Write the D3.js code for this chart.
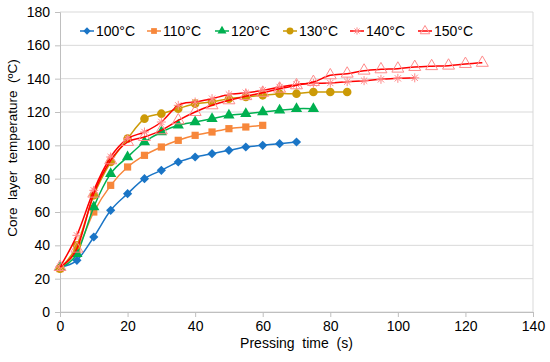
<!DOCTYPE html>
<html>
<head>
<meta charset="utf-8">
<script src="https://cdn.jsdelivr.net/npm/d3@7"></script>
<style>
  body { margin: 0; background: #fff; }
  text { font-family: "Liberation Sans", Arial, sans-serif; fill: #000; }
</style>
</head>
<body>
<div id="chart"></div>
<script>
// Data (time in s, temperature in °C)
const seriesNames = ["100°C", "110°C", "120°C", "130°C", "140°C", "150°C"];
const t100 = [0, 5, 10, 15, 20, 25, 30, 35, 40, 45, 50, 55, 60, 65, 70];
const v100 = [27, 31, 45, 61, 71, 80, 85, 90, 93, 95, 97, 99, 100, 101, 102];
const t110 = [0, 5, 10, 15, 20, 25, 30, 35, 40, 45, 50, 55, 60];
const v110 = [26, 37, 60, 76, 87, 94, 99, 103, 106, 108, 110, 111, 112];
const t120 = [0, 5, 10, 15, 20, 25, 30, 35, 40, 45, 50, 55, 60, 65, 70, 75];
const v120 = [26.5, 35, 63, 83, 93, 102, 108, 112, 114, 116, 118, 119, 120, 121, 122, 122];
const t130 = [0, 5, 10, 15, 20, 25, 30, 35, 40, 45, 50, 55, 60, 65, 70, 75, 80, 85];
const v130 = [26, 40, 70, 90, 104, 116, 119, 122, 125, 126, 128, 129, 130, 131, 131, 132, 132, 132];
const t140 = [0, 5, 10, 15, 20, 25, 30, 35, 40, 45, 50, 55, 60, 65, 70, 75, 80, 85, 90, 95, 100, 105];
const v140 = [27, 46, 73, 93, 104, 108, 114, 124, 126, 128, 130.5, 131.5, 133, 135, 136.5, 137.2, 137.4, 138.2, 138.8, 139.6, 140.2, 140.5];
const t150 = [0, 5, 10, 15, 20, 25, 30, 35, 40, 45, 50, 55, 60, 65, 70, 75, 80, 85, 90, 95, 100, 105, 110, 115, 120, 125];
const v150 = [27, 38, 71, 91, 102, 105, 109, 115, 120, 124, 127, 129.5, 131.5, 134, 136, 138, 142, 143, 144.8, 145.6, 146, 147, 147.5, 147.8, 148.8, 149.5];

const xTicks = [0, 20, 40, 60, 80, 100, 120, 140];
const yTicks = [0, 20, 40, 60, 80, 100, 120, 140, 160, 180];

const times = [t100, t110, t120, t130, t140, t150];
const values = [v100, v110, v120, v130, v140, v150];

// styles per series
const lineColors = ["#1a75c6", "#f7873b", "#00b050", "#cc9a06", "#ff0000", "#ff0000"];
const markerColors = ["#1a75c6", "#f7873b", "#00b050", "#cc9a06", "#ff8a8a", "#ff8a8a"];
const markerTypes = ["diamond", "square", "triangle", "circle", "asterisk", "hollowTriangle"];

const width = 550, height = 362;
const margin = { top: 12, right: 17, bottom: 50, left: 60 };

const svg = d3.select("#chart").append("svg")
    .attr("width", width)
    .attr("height", height);

const x = d3.scaleLinear().domain([0, 140]).range([margin.left, width - margin.right]);
const y = d3.scaleLinear().domain([0, 180]).range([height - margin.bottom, margin.top]);

// horizontal gridlines
svg.append("g")
    .selectAll("line")
    .data(yTicks)
    .enter()
    .append("line")
    .attr("x1", x(0))
    .attr("x2", x(140))
    .attr("y1", d => y(d))
    .attr("y2", d => y(d))
    .attr("stroke", "#d9d9d9")
    .attr("stroke-width", 1);

// right border of plot area
svg.append("line")
    .attr("x1", x(140)).attr("x2", x(140))
    .attr("y1", y(0)).attr("y2", y(180))
    .attr("stroke", "#d9d9d9");

// axes
const xAxis = svg.append("g")
    .attr("transform", `translate(0, ${y(0)})`)
    .call(d3.axisBottom(x).tickValues(xTicks).tickSize(5).tickPadding(4));
const yAxis = svg.append("g")
    .attr("transform", `translate(${x(0)}, 0)`)
    .call(d3.axisLeft(y).tickValues(yTicks).tickSize(5).tickPadding(5));

[xAxis, yAxis].forEach(ax => {
    ax.select(".domain").attr("stroke", "#bfbfbf");
    ax.selectAll(".tick line").attr("stroke", "#bfbfbf");
    ax.selectAll(".tick text")
        .style("font-family", "Liberation Sans, Arial, sans-serif")
        .style("font-size", "14px")
        .attr("fill", "#000");
});

// axis titles
svg.append("text")
    .attr("x", (x(0) + x(140)) / 2)
    .attr("y", height - 14)
    .attr("text-anchor", "middle")
    .style("font-size", "14px")
    .style("white-space", "pre")
    .text("Pressing  time  (s)");

svg.append("text")
    .attr("transform", `translate(17, ${(y(0) + y(180)) / 2 - 14}) rotate(-90)`)
    .attr("text-anchor", "middle")
    .style("font-size", "13.5px")
    .style("white-space", "pre")
    .text("Core  layer  temperature  (ºC)");

// marker drawing helper
function drawMarker(g, type, color, s = 1) {
    if (type === "diamond") {
        const r = 4.6 * s;
        g.append("path").attr("d", `M0,${-r}L${r},0L0,${r}L${-r},0Z`).attr("fill", color);
    } else if (type === "square") {
        g.append("path").attr("d", d3.symbol(d3.symbolSquare, 52 * s * s)()).attr("fill", color);
    } else if (type === "triangle") {
        g.append("path").attr("d", d3.symbol(d3.symbolTriangle, 55 * s * s)()).attr("fill", color);
    } else if (type === "circle") {
        g.append("circle").attr("r", 4.3 * s).attr("fill", color);
    } else if (type === "asterisk") {
        const r = 4.5 * s;
        g.append("path")
            .attr("d", `M${-r},0H${r}M0,${-r}V${r}M${-r * 0.7},${-r * 0.7}L${r * 0.7},${r * 0.7}M${-r * 0.7},${r * 0.7}L${r * 0.7},${-r * 0.7}`)
            .attr("stroke", color)
            .attr("stroke-width", 1)
            .attr("fill", "none");
    } else if (type === "hollowTriangle") {
        g.append("path").attr("d", d3.symbol(d3.symbolTriangle, 62 * s * s)())
            .attr("fill", "none")
            .attr("stroke", color)
            .attr("stroke-width", 1);
    }
}

const line = d3.line()
    .x(d => x(d[0]))
    .y(d => y(d[1]))
    .curve(d3.curveCardinal.tension(0));

// series
seriesNames.forEach((name, i) => {
    const pts = times[i].map((t, j) => [t, values[i][j]]);
    const g = svg.append("g");
    g.append("path")
        .datum(pts)
        .attr("d", line)
        .attr("fill", "none")
        .attr("stroke", lineColors[i])
        .attr("stroke-width", 1.5);
    pts.forEach(p => {
        const m = g.append("g").attr("transform", `translate(${x(p[0])}, ${y(p[1])})`);
        drawMarker(m, markerTypes[i], markerColors[i]);
    });
});

// legend
const legendX = [80, 147, 215, 283, 350, 418];
const legend = svg.append("g").attr("transform", "translate(0, 31)");
seriesNames.forEach((name, i) => {
    const item = legend.append("g").attr("transform", `translate(${legendX[i]}, 0)`);
    item.append("line")
        .attr("x1", 0).attr("x2", 14)
        .attr("y1", 0).attr("y2", 0)
        .attr("stroke", lineColors[i])
        .attr("stroke-width", 1.5);
    const m = item.append("g").attr("transform", "translate(7, 0)");
    drawMarker(m, markerTypes[i], markerColors[i], 0.8);
    item.append("text")
        .attr("x", 16)
        .attr("y", 5)
        .style("font-size", "14px")
        .text(name);
});
</script>
</body>
</html>
